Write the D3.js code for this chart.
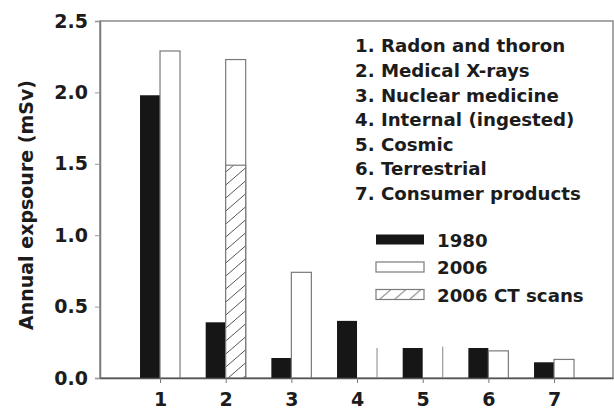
<!DOCTYPE html>
<html>
<head>
<meta charset="utf-8">
<script src="https://cdn.jsdelivr.net/npm/d3@7"></script>
<style>
  body { margin: 0; background: #fff; }
  text { font-family: "DejaVu Sans", sans-serif; font-weight: bold; fill: #1c1c1c; }
</style>
</head>
<body>
<script>
// annual exposure by source
var categories = [1, 2, 3, 4, 5, 6, 7];
var sourceNames = ["Radon and thoron", "Medical X-rays", "Nuclear medicine",
  "Internal (ingested)", "Cosmic", "Terrestrial", "Consumer products"];
var exp1980 = [1.98, 0.39, 0.14, 0.40, 0.21, 0.21, 0.11];
var exp2006 = [2.29, 2.23, 0.74, 0.21, 0.22, 0.19, 0.13];
var ct2006 = [0, 1.49, 0, 0, 0, 0, 0];
// 2006 bars whose outline only shows the right edge in the print
var faint2006 = [4, 5];
var yTicks = [0, 0.5, 1.0, 1.5, 2.0, 2.5];
var legendNames = ["1980", "2006", "2006 CT scans"];

var W = 614, H = 412;
var margin = {top: 21, right: 1, bottom: 34, left: 100};
var width = W - margin.left - margin.right;
var height = H - margin.top - margin.bottom;
var barW = 20;

var x = d3.scaleLinear()
.domain([0.086, 7.898])
.range([0, width]);

var y = d3.scaleLinear()
.domain([0, 2.5])
.range([height, 0]);

var svg = d3.select('body')
.append('svg')
.attr('width', W)
.attr('height', H);

var defs = svg.append('defs');
var pat = defs.append('pattern')
.attr('id', 'hatch')
.attr('patternUnits', 'userSpaceOnUse')
.attr('width', 15)
.attr('height', 13);
pat.append('rect').attr('width', 15).attr('height', 13).attr('fill', '#fff');
pat.append('path')
.attr('d', 'M0,13 L15,0 M-15,13 L0,0 M15,13 L30,0')
.attr('stroke', '#555')
.attr('stroke-width', 1);

var main = svg.append('g')
.attr('transform', 'translate(' + margin.left + ',' + margin.top + ')');

// frame
main.append('rect')
.attr('x', 0)
.attr('y', 0)
.attr('width', width)
.attr('height', height)
.attr('fill', 'none')
.attr('stroke', '#8a8a8a')
.attr('stroke-width', 1.5);

var rows = categories.map(function(c, i) {
  return {c: c, a: exp1980[i], b: exp2006[i], ct: ct2006[i]};
});

// 1980 bars
main.selectAll('.b1980')
.data(rows)
.enter().append('rect')
.attr('x', function(d) { return x(d.c) - barW; })
.attr('y', function(d) { return y(d.a); })
.attr('width', barW)
.attr('height', function(d) { return y(0) - y(d.a); })
.attr('fill', '#161616');

// 2006 bars
main.selectAll('.b2006')
.data(rows.filter(function(d) { return faint2006.indexOf(d.c) < 0; }))
.enter().append('rect')
.attr('x', function(d) { return x(d.c); })
.attr('y', function(d) { return y(d.b); })
.attr('width', barW)
.attr('height', function(d) { return y(0) - y(d.b); })
.attr('fill', '#fff')
.attr('stroke', '#7a7a7a')
.attr('stroke-width', 1.2);

main.selectAll('.b2006faint')
.data(rows.filter(function(d) { return faint2006.indexOf(d.c) >= 0; }))
.enter().append('line')
.attr('x1', function(d) { return x(d.c) + barW; })
.attr('x2', function(d) { return x(d.c) + barW; })
.attr('y1', function(d) { return y(d.b); })
.attr('y2', y(0))
.attr('stroke', '#9a9a9a')
.attr('stroke-width', 1.2);

// CT scan part of 2006
main.selectAll('.bct')
.data(rows.filter(function(d) { return d.ct > 0; }))
.enter().append('rect')
.attr('x', function(d) { return x(d.c); })
.attr('y', function(d) { return y(d.ct); })
.attr('width', barW)
.attr('height', function(d) { return y(0) - y(d.ct); })
.attr('fill', 'url(#hatch)')
.attr('stroke', '#7a7a7a')
.attr('stroke-width', 1.2);

// axes
var yaxis = d3.axisLeft(y)
.tickValues(yTicks)
.tickFormat(d3.format('.1f'))
.tickSize(5)
.tickPadding(7);

var gy = main.append('g').call(yaxis);
gy.select('.domain').attr('stroke', '#7a7a7a').attr('stroke-width', 1.5);
gy.selectAll('line').attr('stroke', '#9a9a9a');
gy.selectAll('text').style('font-size', '19px');

var xaxis = d3.axisBottom(x)
.tickValues(categories)
.tickFormat(d3.format('d'))
.tickSize(5)
.tickSizeOuter(0)
.tickPadding(10);

var gx = main.append('g')
.attr('transform', 'translate(0,' + height + ')')
.call(xaxis);
gx.select('.domain').attr('stroke', '#555').attr('stroke-width', 1.5);
gx.selectAll('line').attr('stroke', '#777');
gx.selectAll('text').style('font-size', '19px');

svg.append('text')
.attr('transform', 'translate(32.5,205) rotate(-90)')
.style('text-anchor', 'middle')
.style('font-size', '19px')
.text('Annual expsoure (mSv)');

// source list
svg.selectAll('.src')
.data(sourceNames)
.enter().append('text')
.attr('x', 355)
.attr('y', function(d, i) { return 52.3 + i * 24.6; })
.style('font-size', '18.2px')
.text(function(d, i) { return categories[i] + '. ' + d; });

// legend
var swFill = ['#161616', '#fff', 'url(#hatch)'];
var swStroke = ['none', '#7a7a7a', '#7a7a7a'];
var leg = svg.selectAll('.leg')
.data(legendNames)
.enter().append('g')
.attr('transform', function(d, i) { return 'translate(376,' + (234.5 + i * 27.5) + ')'; });

leg.append('rect')
.attr('width', 48)
.attr('height', 10)
.attr('fill', function(d, i) { return swFill[i]; })
.attr('stroke', function(d, i) { return swStroke[i]; })
.attr('stroke-width', 1.2);

leg.append('text')
.attr('x', 61)
.attr('y', 12.3)
.style('font-size', '18.2px')
.text(function(d) { return d; });
</script>
</body>
</html>
